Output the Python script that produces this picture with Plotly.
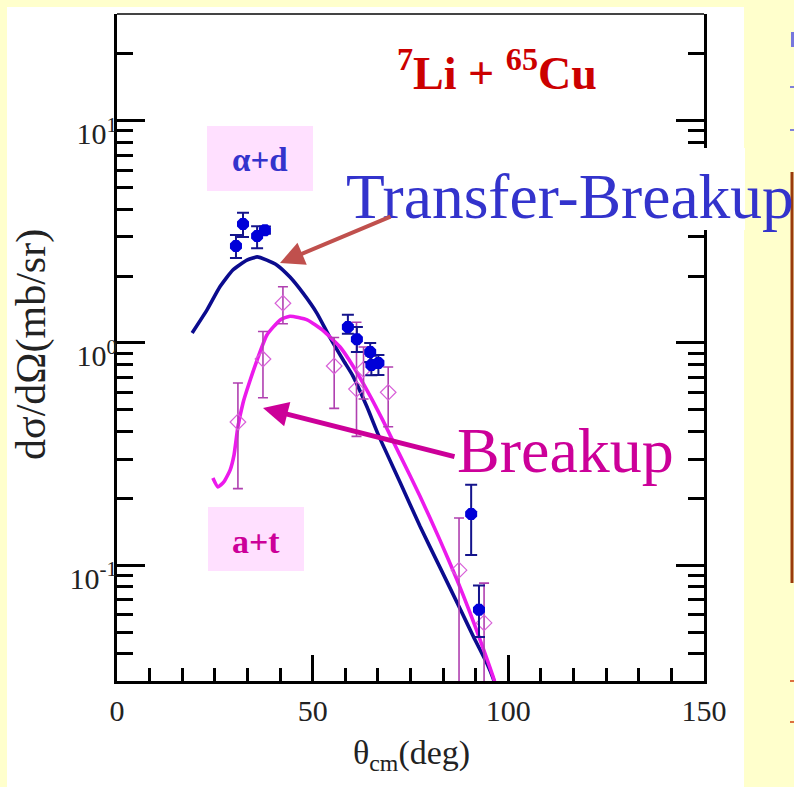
import plotly.graph_objects as go

# ---- calculated angular distributions (theta_cm in deg, dsigma/dOmega in mb/sr)
theta_tb = [19.2, 23.0, 26.3, 29.6, 33.2, 35.8, 38.3, 40.9, 44.2, 47.5, 51.1, 54.4,
            57.8, 60.3, 63.9, 66.7, 72.3, 77.4, 82.5, 87.7, 91.0, 94.6, 96.1, 97.5]
sig_tb = [1.11, 1.41, 1.79, 2.13, 2.36, 2.44, 2.36, 2.24, 1.98, 1.68, 1.36, 1.06,
          0.838, 0.71, 0.515, 0.389, 0.237, 0.150, 0.098, 0.0635, 0.048, 0.0359, 0.031, 0.026]

theta_bu = [24.5, 25.8, 27.3, 28.9, 29.9, 30.9, 32.2, 33.2, 35.8, 38.3, 41.7, 44.2, 48.6,
            52.6, 57.0, 60.3, 64.7, 68.0, 70.0, 72.3, 77.4, 82.5, 86.9, 90.2, 93.5, 96.1, 97.5]
sig_bu = [0.247, 0.225, 0.237, 0.268, 0.313, 0.419, 0.537, 0.614, 0.838, 1.086, 1.27, 1.32, 1.27,
          1.14, 0.959, 0.788, 0.577, 0.446, 0.378, 0.313, 0.205, 0.130, 0.0858, 0.0612, 0.0426, 0.0315, 0.026]

# ---- measured alpha+d coincidences
theta_ad = [30.4, 32.2, 35.8, 37.8, 59.0, 61.3, 64.7, 65.0, 66.8, 90.5, 92.5]
sig_ad = [2.73, 3.43, 3.03, 3.22, 1.18, 1.04, 0.911, 0.796, 0.813, 0.170, 0.063]
err_ad_hi = [0.33, 0.43, 0.32, 0.12, 0.16, 0.14, 0.09, 0.08, 0.07, 0.06, 0.018]
err_ad_lo = [0.32, 0.43, 0.36, 0.12, 0.08, 0.13, 0.09, 0.08, 0.095, 0.059, 0.0155]

# ---- measured alpha+t coincidences
theta_at = [30.9, 37.3, 42.4, 55.5, 61.2, 63.0, 69.3, 87.4, 93.8]
sig_at = [0.441, 0.847, 1.51, 0.788, 0.62, 0.76, 0.60, 0.095, 0.055]
err_at_hi = [0.22, 0.28, 0.28, 0.27, 0.62, 0.20, 0.18, 0.068, 0.028]
err_at_lo = [0.22, 0.28, 0.29, 0.28, 0.24, 0.20, 0.18, 0.09, 0.05]

# ---- axes
x_range = [0, 150]
x_major = [0, 50, 100, 150]
y_range_log = [-1.5212, 1.4806]
y_major = [0.1, 1, 10]
y_major_text = ["10<sup>-1</sup>", "10<sup>0</sup>", "10<sup>1</sup>"]

x_minor = [k * 50 / 6 for k in range(1, 18) if k % 6 != 0]
y_minor = [m * 10.0 ** e for e in range(-2, 2) for m in range(2, 10)]
y_minor = [v for v in y_minor if 0.0302 < v < 30.3]

W, H = 794, 787
L, R, T, B = 117, 704, 14, 681
SERIF = "Liberation Serif"


def pp(px, py):
    """pixel position -> paper coordinates"""
    return (px - L) / (R - L), (B - py) / (B - T)


fig = go.Figure()

fig.add_trace(go.Scatter(x=theta_tb, y=sig_tb, mode="lines",
                         line=dict(color="#0B0B8E", width=3.6, shape="spline", smoothing=0.5)))
fig.add_trace(go.Scatter(x=theta_bu, y=sig_bu, mode="lines",
                         line=dict(color="#EC1AEC", width=3.6, shape="spline", smoothing=0.5)))

fig.add_trace(go.Scatter(
    x=theta_at, y=sig_at, mode="markers",
    marker=dict(symbol="diamond-open", size=12, color="#D860D8", line=dict(width=1.2)),
    error_y=dict(type="data", array=err_at_hi, arrayminus=err_at_lo,
                 color="#B040B0", thickness=1.6, width=5)))

fig.add_trace(go.Scatter(
    x=theta_ad, y=sig_ad, mode="markers",
    marker=dict(symbol="octagon", size=13, color="#0000D8"),
    error_y=dict(type="data", array=err_ad_hi, arrayminus=err_ad_lo,
                 color="#14148C", thickness=2, width=6)))

shapes = []
# white panel on the yellow page
x0, y0 = pp(7, 7)
x1, y1 = pp(744, 787)
shapes.append(dict(type="rect", xref="paper", yref="paper", x0=x0, y0=y1, x1=x1, y1=y0,
                   fillcolor="white", line=dict(width=0), layer="below"))
# pink label boxes
for (a, b, c, d) in [(207, 126, 313, 191), (208, 507, 304, 571)]:
    u0, v0 = pp(a, b)
    u1, v1 = pp(c, d)
    shapes.append(dict(type="rect", xref="paper", yref="paper", x0=u0, y0=v1, x1=u1, y1=v0,
                       fillcolor="#FFE0FF", line=dict(width=0), layer="below"))
# top frame line
u0, v0 = pp(117, 14)
u1, _ = pp(704, 14)
shapes.append(dict(type="line", xref="paper", yref="paper", x0=u0, y0=v0, x1=u1, y1=v0,
                   line=dict(color="#444444", width=2)))
# white band behind the Transfer-Breakup caption
u0, v0 = pp(345, 148)
u1, v1 = pp(745, 230)
shapes.append(dict(type="rect", xref="paper", yref="paper", x0=u0, y0=v1, x1=u1, y1=v0,
                   fillcolor="white", line=dict(width=0), layer="above"))
# edge of the neighbouring frame
u0, v0 = pp(792, 172)
_, v1 = pp(792, 583)
shapes.append(dict(type="line", xref="paper", yref="paper", x0=u0, y0=v0, x1=u0, y1=v1,
                   line=dict(color="#9A3A0C", width=3)))
for (yy, col) in [(87, "#5555DD"), (130, "#5555DD"), (681, "#D04010"), (722, "#D04010")]:
    u0, v = pp(790, yy)
    u1, _ = pp(794, yy)
    shapes.append(dict(type="line", xref="paper", yref="paper", x0=u0, y0=v, x1=u1, y1=v,
                       line=dict(color=col, width=1.5)))
u0, v0 = pp(791, 32)
u1, v1 = pp(794, 47)
shapes.append(dict(type="rect", xref="paper", yref="paper", x0=u0, y0=v1, x1=u1, y1=v0,
                   fillcolor="#7777DD", line=dict(width=0)))

annotations = []


def text_at(px, py, txt, size, color, xanchor="center", angle=0):
    u, v = pp(px, py)
    annotations.append(dict(xref="paper", yref="paper", x=u, y=v, text=txt, showarrow=False,
                            xanchor=xanchor, yanchor="middle", textangle=angle,
                            font=dict(family=SERIF, size=size, color=color)))


def arrow(hx, hy, tx, ty, color, width, size):
    u, v = pp(hx, hy)
    annotations.append(dict(xref="paper", yref="paper", x=u, y=v, text="",
                            showarrow=True, axref="pixel", ayref="pixel",
                            ax=tx - hx, ay=ty - hy, arrowhead=2, arrowsize=size,
                            arrowwidth=width, arrowcolor=color, standoff=0))


text_at(395, 70, "<b><sup>7</sup>Li + <sup>65</sup>Cu</b>", 46, "#CC0000", xanchor="left")
text_at(260, 160, "<b>α+d</b>", 33, "#3333CC")
text_at(256, 541, "<b>a+t</b>", 34, "#CC0099")
text_at(344, 196, "Transfer-Breakup", 63.5, "#3333CC", xanchor="left")
text_at(455, 450, "Breakup", 64, "#CC0099", xanchor="left")
arrow(280, 263, 392, 216, "#C0504D", 4, 1.2)
arrow(263, 408, 456, 457, "#CC0099", 5, 1.0)

# axis titles
text_at(412, 755, "θ<sub>cm</sub>(deg)", 34, "#222222")
text_at(31, 345, "dσ/dΩ(mb/sr)", 42, "#222222", angle=-90)

fig.update_layout(
    width=W, height=H,
    margin=dict(l=L, r=W - R, t=T, b=H - B, pad=0),
    paper_bgcolor="#FFFFCC", plot_bgcolor="rgba(0,0,0,0)",
    showlegend=False,
    shapes=shapes, annotations=annotations,
    font=dict(family=SERIF, color="#222222"),
)

fig.update_xaxes(
    range=x_range, tickmode="array", tickvals=x_major, ticktext=[str(v) for v in x_major],
    ticks="inside", ticklen=26, tickwidth=2.5, tickcolor="black",
    showline=True, linecolor="black", linewidth=3, mirror=False,
    showgrid=False, zeroline=False, automargin=False,
    tickfont=dict(family=SERIF, size=30, color="#222222"), ticklabelstandoff=1,
    minor=dict(tickmode="array", tickvals=x_minor, ticks="inside", ticklen=13,
               tickwidth=2.5, tickcolor="black", showgrid=False),
)
fig.update_yaxes(
    type="log", range=y_range_log, tickmode="array", tickvals=y_major, ticktext=y_major_text,
    ticks="inside", ticklen=28, tickwidth=2.5, tickcolor="black",
    showline=True, linecolor="black", linewidth=3, mirror="ticks",
    showgrid=False, zeroline=False, automargin=False,
    tickfont=dict(family=SERIF, size=30, color="#222222"), ticklabelstandoff=-9,
    ticklabelshift=13,
    minor=dict(tickmode="array", tickvals=y_minor, ticks="inside", ticklen=16,
               tickwidth=2.5, tickcolor="black", showgrid=False),
)

fig.write_html("out.html")
